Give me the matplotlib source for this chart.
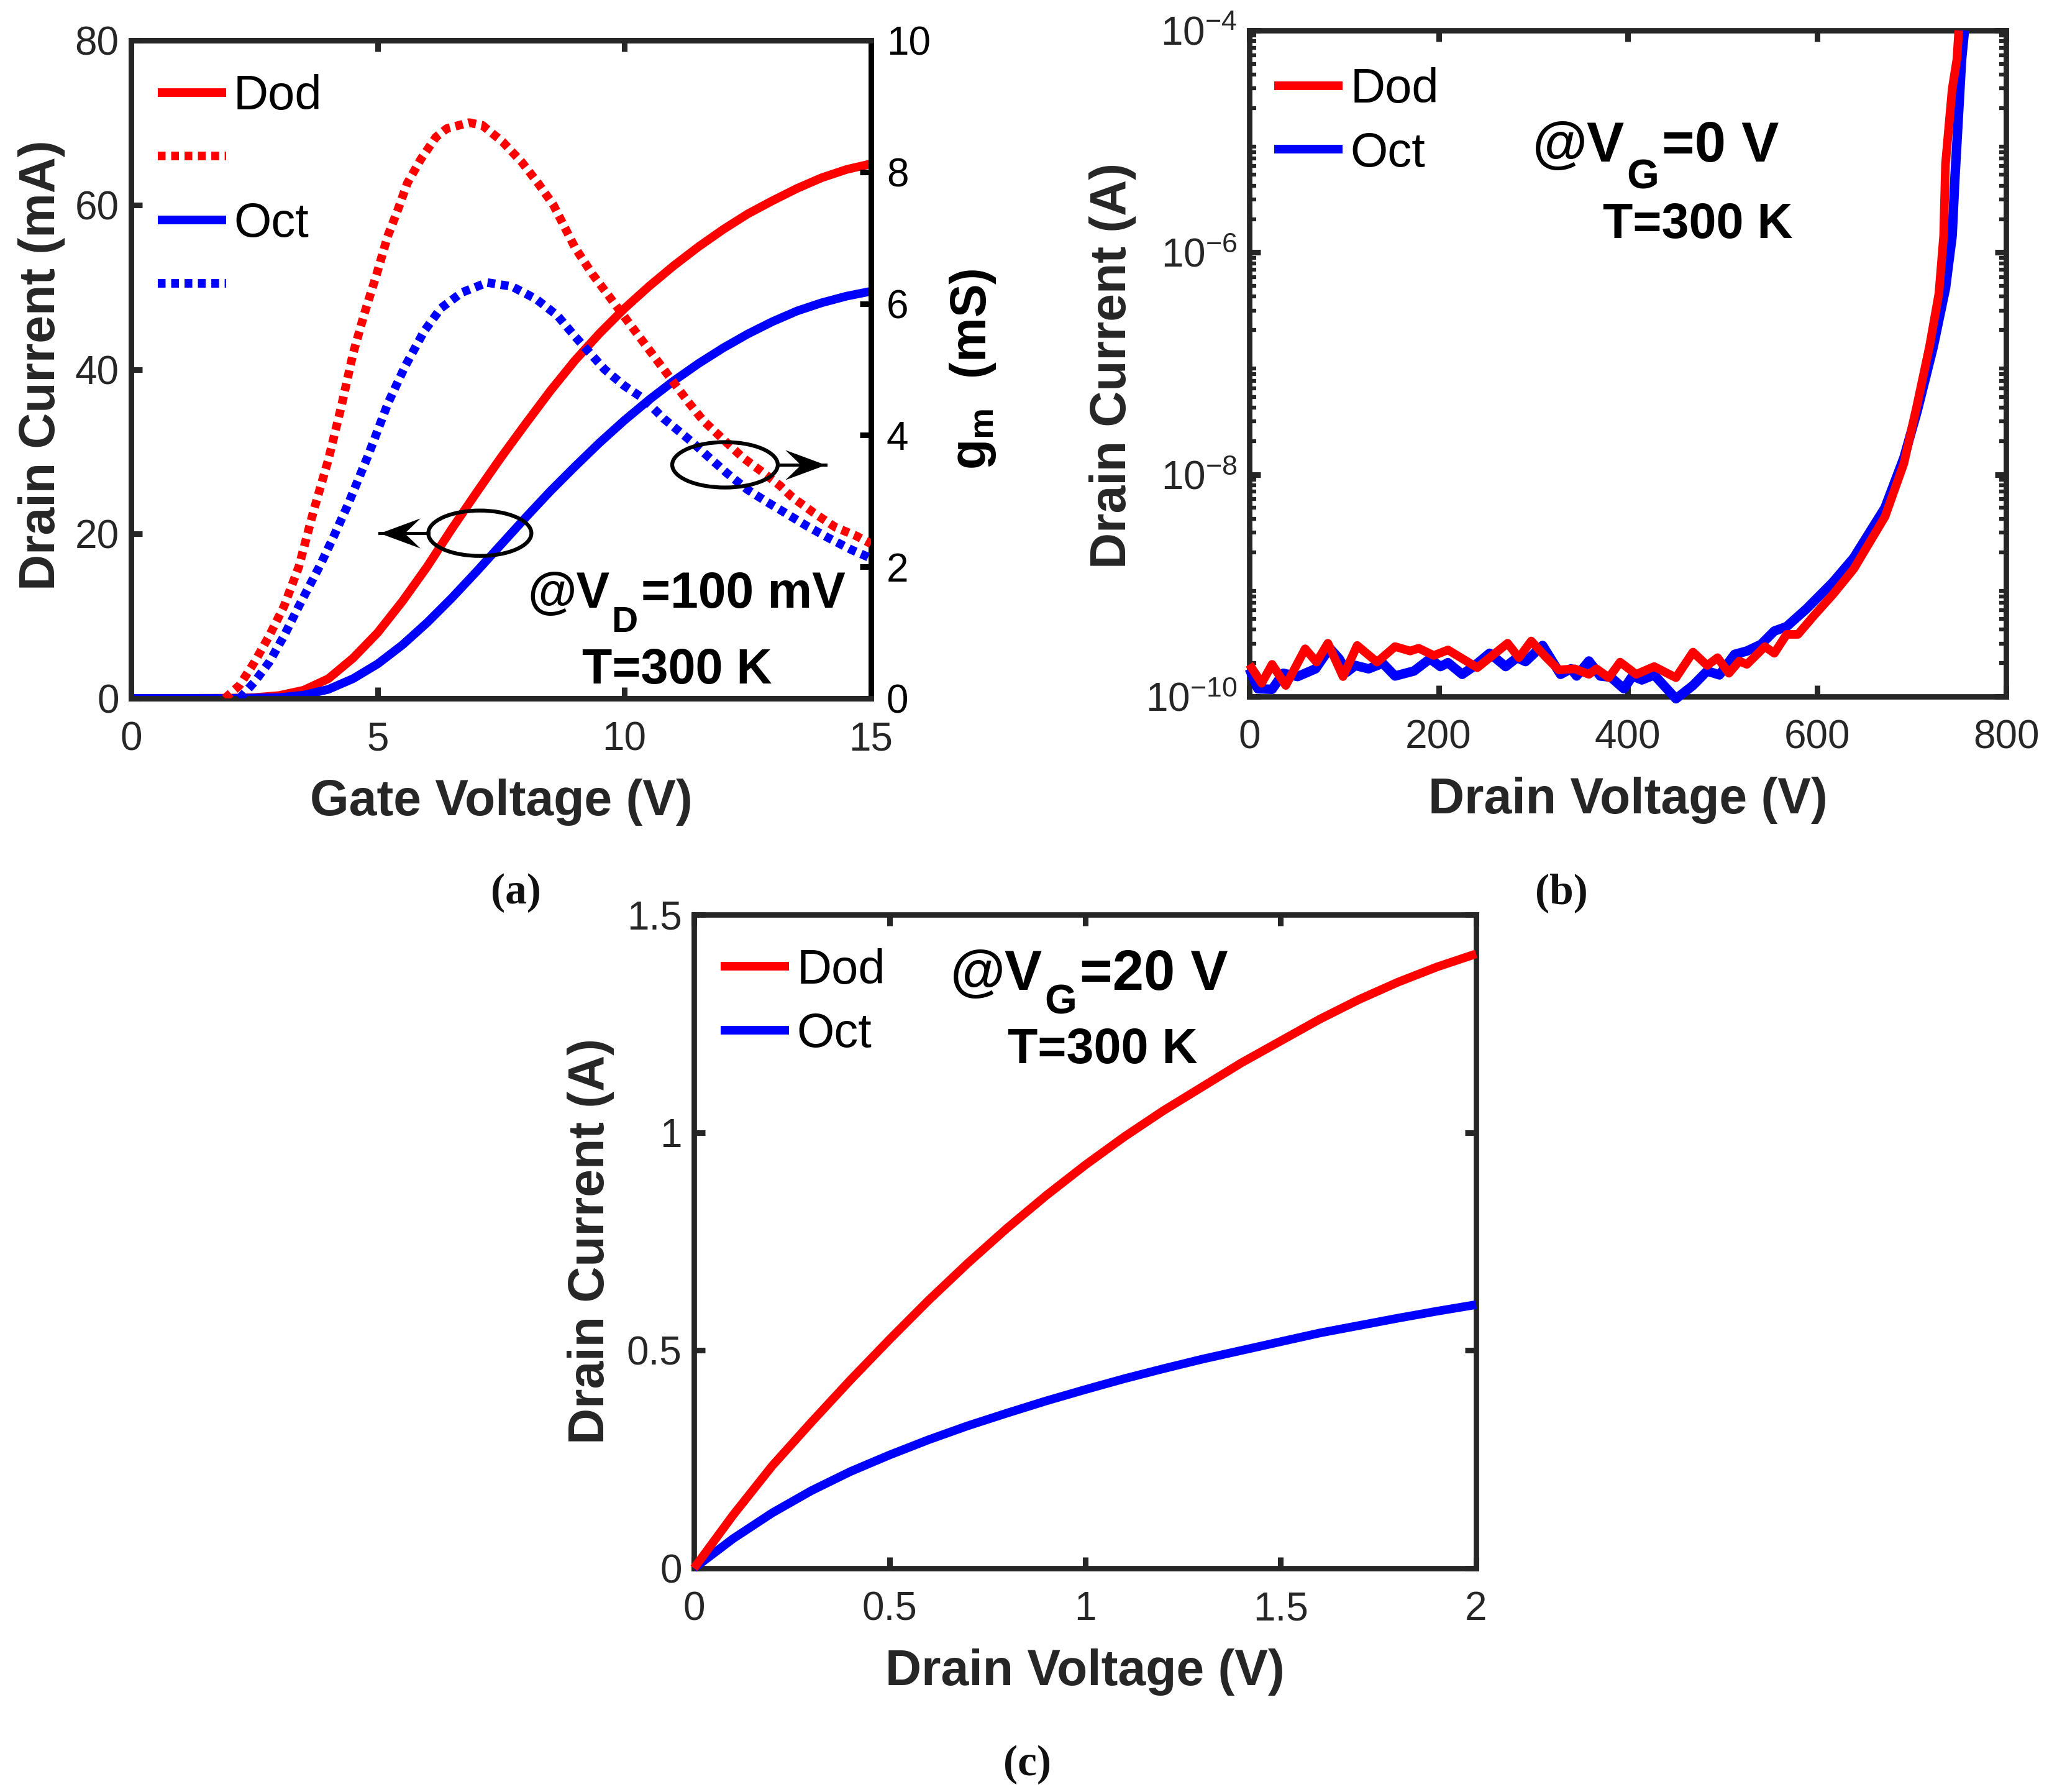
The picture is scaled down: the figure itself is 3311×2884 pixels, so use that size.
import numpy as np
import matplotlib
matplotlib.use('Agg')
import matplotlib.pyplot as plt
from matplotlib.patches import Ellipse
from matplotlib.path import Path

plt.rcParams['font.family'] = ['Liberation Sans', 'DejaVu Sans']
plt.rcParams['mathtext.fontset'] = 'custom'
plt.rcParams['mathtext.rm'] = 'Liberation Sans'
plt.rcParams['mathtext.bf'] = 'Liberation Sans:bold'
plt.rcParams['mathtext.it'] = 'Liberation Sans:italic'
plt.rcParams['mathtext.default'] = 'rm'

W, H = 3311, 2884
DARK = '#262626'
RED = '#ff0000'
BLUE = '#0000ff'

# Panel (a)
a_dod_v = [0, 1, 2, 2.5, 3, 3.5, 4, 4.5, 5, 5.5, 6, 6.5, 7, 7.5, 8, 8.5, 9, 9.5, 10, 10.5, 11, 11.5, 12, 12.5, 13, 13.5, 14, 14.5, 15]
a_dod_i = [0, 0, 0.03, 0.1, 0.35, 1.0, 2.4, 4.9, 8.0, 11.8, 16.0, 20.6, 25.0, 29.3, 33.4, 37.4, 41.1, 44.4, 47.4, 50.1, 52.6, 54.9, 57.0, 58.9, 60.5, 62.0, 63.3, 64.3, 65.0]
a_oct_v = [0, 2, 3, 3.5, 4, 4.5, 5, 5.5, 6, 6.5, 7, 7.5, 8, 8.5, 9, 9.5, 10, 10.5, 11, 11.5, 12, 12.5, 13, 13.5, 14, 14.5, 15]
a_oct_i = [0, 0, 0.1, 0.4, 1.1, 2.4, 4.2, 6.5, 9.2, 12.2, 15.4, 18.7, 22.0, 25.2, 28.2, 31.1, 33.8, 36.3, 38.6, 40.7, 42.6, 44.3, 45.8, 47.1, 48.1, 48.9, 49.5]
a_dod_gv = [1.9, 2.2, 2.5, 2.8, 3.1, 3.4, 3.7, 4.0, 4.26, 4.5, 4.73, 4.98, 5.2, 5.41, 5.6, 5.87, 6.18, 6.4, 6.85, 7.12, 7.53, 7.92, 8.25, 8.56, 9.0, 9.35, 9.7, 10.0, 10.3, 10.65, 11.0, 11.3, 11.6, 12.0, 12.4, 12.78, 13.16, 13.4, 13.84, 14.28, 14.7, 15]
a_dod_g = [0, 0.2, 0.55, 0.95, 1.4, 2.0, 2.85, 3.63, 4.43, 5.24, 5.85, 6.45, 7.02, 7.43, 7.83, 8.19, 8.53, 8.66, 8.75, 8.71, 8.46, 8.15, 7.83, 7.5, 6.85, 6.45, 6.1, 5.8, 5.5, 5.15, 4.8, 4.5, 4.22, 3.94, 3.66, 3.45, 3.23, 3.06, 2.82, 2.6, 2.47, 2.35]
a_oct_gv = [2.2, 2.5, 2.8, 3.1, 3.4, 3.85, 4.1, 4.4, 4.81, 5.21, 5.55, 5.94, 6.28, 6.71, 7.22, 7.72, 8.21, 8.64, 9.0, 9.6, 10.0, 10.4, 10.8, 11.35, 11.72, 12.1, 12.5, 12.88, 13.26, 13.7, 14.11, 14.6, 15]
a_oct_g = [0, 0.25, 0.55, 0.95, 1.4, 2.05, 2.45, 2.95, 3.7, 4.49, 5.04, 5.58, 5.93, 6.17, 6.32, 6.26, 6.07, 5.82, 5.5, 5.0, 4.75, 4.55, 4.25, 3.91, 3.66, 3.41, 3.17, 2.99, 2.82, 2.62, 2.45, 2.26, 2.13]

# Panel (b)
b_dod_v = [0, 13, 24, 38.5, 59, 71, 83, 99, 114, 135, 154, 170, 179, 195, 210, 241, 273, 285, 298, 313, 327, 344, 359, 367, 380, 392, 409, 428, 451, 469, 484, 495, 507, 518, 526, 545, 555, 568, 580, 597, 617, 639, 672, 692, 706, 719, 729, 734, 736, 743, 748, 750]
b_dod_log = [-9.71, -9.88, -9.71, -9.90, -9.57, -9.69, -9.52, -9.82, -9.54, -9.69, -9.55, -9.59, -9.565, -9.63, -9.58, -9.74, -9.52, -9.65, -9.50, -9.64, -9.76, -9.75, -9.80, -9.75, -9.83, -9.69, -9.80, -9.73, -9.83, -9.60, -9.72, -9.65, -9.79, -9.68, -9.71, -9.55, -9.61, -9.44, -9.44, -9.27, -9.08, -8.85, -8.38, -7.9, -7.37, -6.85, -6.37, -5.85, -5.2, -4.53, -4.26, -4.0]
b_oct_v = [0, 9, 24, 36, 51, 70, 85, 95, 103, 112, 126, 141, 154, 174, 191, 202, 210, 225, 237, 254, 271, 283, 292, 310, 329, 340, 346, 359, 371, 382, 396, 405, 415, 428, 451, 469, 484, 497, 513, 526, 541, 555, 568, 589, 617, 639, 672, 692, 706, 723, 736, 743, 746, 753, 756]
b_oct_log = [-9.75, -9.93, -9.935, -9.79, -9.82, -9.75, -9.565, -9.66, -9.78, -9.72, -9.75, -9.70, -9.815, -9.77, -9.66, -9.73, -9.695, -9.80, -9.73, -9.61, -9.73, -9.65, -9.685, -9.54, -9.80, -9.75, -9.815, -9.68, -9.815, -9.825, -9.93, -9.815, -9.85, -9.805, -10.02, -9.90, -9.77, -9.805, -9.62, -9.59, -9.53, -9.41, -9.37, -9.21, -8.97, -8.75, -8.3, -7.85, -7.43, -6.85, -6.32, -5.85, -5.32, -4.26, -4.0]

# Panel (c)
c_v = [0, 0.1, 0.2, 0.3, 0.4, 0.5, 0.6, 0.7, 0.8, 0.9, 1.0, 1.1, 1.2, 1.3, 1.4, 1.5, 1.6, 1.7, 1.8, 1.9, 2.0]
c_dod = [0, 0.122, 0.235, 0.335, 0.432, 0.525, 0.615, 0.70, 0.78, 0.855, 0.925, 0.99, 1.05, 1.105, 1.16, 1.21, 1.26, 1.305, 1.345, 1.38, 1.41]
c_oct = [0, 0.068, 0.127, 0.178, 0.222, 0.26, 0.295, 0.327, 0.356, 0.384, 0.41, 0.435, 0.458, 0.48, 0.50, 0.52, 0.54, 0.557, 0.574, 0.59, 0.605]

TICK = 46
LABEL = 58
LEG = 56
LW = 10
SPINE = 6.3


def add_axes(l, t, r, b):
    return fig.add_axes([l / W, 1 - b / H, (r - l) / W, (b - t) / H])


def style(ax, top=True, right=True):
    for s in ax.spines.values():
        s.set_linewidth(SPINE)
        s.set_color(DARK)
    ax.tick_params(which='major', direction='in', length=13, width=6.5, top=top, right=right,
                   labelsize=TICK, labelcolor=DARK, color=DARK)
    ax.tick_params(axis='x', which='major', pad=26)
    ax.tick_params(axis='y', which='major', pad=14)
    ax.tick_params(which='minor', direction='in', length=8, width=4.5, top=False, right=right, color=DARK)


def legend(ax, handles, labels, loc):
    ax.legend(handles, labels, loc='upper left', bbox_to_anchor=loc, frameon=False, fontsize=LEG,
              handlelength=1.41, handletextpad=0.16, labelspacing=0.38, borderpad=0, borderaxespad=0,
              labelcolor='black')


def annotation(x, y, ysub, head, sub, tail, size, subsize):
    """@V with a lowered subscript, set as three real texts from pixel positions."""
    r = fig.canvas.get_renderer()
    t = fig.text(x / W, 1 - y / H, head, fontsize=size, fontweight='bold', va='baseline', color='black')
    x1 = t.get_window_extent(r).x1 + 3
    t = fig.text(x1 / W, 1 - ysub / H, sub, fontsize=subsize, fontweight='bold', va='baseline', color='black')
    x2 = t.get_window_extent(r).x1 + 5
    fig.text(x2 / W, 1 - y / H, tail, fontsize=size, fontweight='bold', va='baseline', color='black')


def temperature(xc, y):
    fig.text(xc / W, 1 - y / H, 'T=300 K', fontsize=57, fontweight='bold', ha='center', va='baseline', color='black')


fig = plt.figure(figsize=(W / 100, H / 100), dpi=100, facecolor='white')

# (a)
ax = add_axes(211, 65, 1402, 1124)
style(ax, right=False)
l1, = ax.plot(a_dod_v, a_dod_i, color=RED, lw=LW, zorder=3, solid_capstyle='butt')
l3, = ax.plot(a_oct_v, a_oct_i, color=BLUE, lw=LW, zorder=3, solid_capstyle='butt')
ax.set_xlim(0, 15)
ax.set_ylim(0, 80)
ax.set_xticks([0, 5, 10, 15])
ax.set_yticks([0, 20, 40, 60, 80])
ax.set_xlabel('Gate Voltage (V)', fontsize=LABEL, fontweight='bold', color=DARK, labelpad=24)
ax.set_ylabel('Drain Current (mA)', fontsize=LABEL, fontweight='bold', color=DARK, labelpad=11, y=0.506)
ax2 = ax.twinx()
style(ax2, top=False, right=True)
ax2.spines['right'].set_color('black')
ax2.tick_params(axis='y', labelcolor='black', color='black', pad=18)
dots = (0, (0.9, 0.65))
l2, = ax2.plot(a_dod_gv, a_dod_g, color=RED, lw=LW, ls=dots, zorder=3)
l4, = ax2.plot(a_oct_gv, a_oct_g, color=BLUE, lw=LW, ls=dots, zorder=3)
ax2.set_ylim(0, 10)
ax2.set_yticks([0, 2, 4, 6, 8, 10])
ax2.set_ylabel(r'$\mathbf{g_m}$  (mS)', fontsize=LABEL, fontweight='bold', color='black', labelpad=20)
legend(ax2, [l1, l2, l3, l4], ['Dod', ' ', 'Oct', ' '], (0.036, 0.949))
ax2.add_patch(Ellipse((7.07, 2.51), 2.09, 0.69, fill=False, ec='black', lw=4.5, zorder=5))
ax2.add_patch(Ellipse((12.04, 3.55), 2.14, 0.69, fill=False, ec='black', lw=4.5, zorder=5))
# concave arrow heads as markers whose tip is the marker origin
head_left = Path([(0, 0), (65, 24), (40, 0), (65, -24), (0, 0)], closed=True)
head_right = Path([(0, 0), (-65, 24), (-40, 0), (-65, -24), (0, 0)], closed=True)
ax2.plot([6.03, 5.04], [2.51, 2.51], color='black', lw=3.6, zorder=5, marker=head_left, markevery=[1],
         markersize=94, markerfacecolor='black', markeredgewidth=0)
ax2.plot([13.1, 14.08], [3.55, 3.55], color='black', lw=3.6, zorder=5, marker=head_right, markevery=[1],
         markersize=94, markerfacecolor='black', markeredgewidth=0)
annotation(849, 978, 1017, '@V', 'D', '=100 mV', 58, 42)
temperature(1090, 1100)

# (b)
bx = add_axes(2011, 49, 3229, 1121)
style(bx)
bx.plot(b_oct_v, 10.0 ** np.array(b_oct_log), color=BLUE, lw=LW + 1, zorder=3, clip_on=False, solid_capstyle='butt')
bx.plot(b_dod_v, 10.0 ** np.array(b_dod_log), color=RED, lw=LW, zorder=3.1, clip_on=False, solid_capstyle='butt')
bx.set_yscale('log')
bx.set_xlim(0, 800)
bx.set_ylim(1e-10, 1e-4)
bx.set_xticks([0, 200, 400, 600, 800])
bx.set_yticks([1e-10, 1e-8, 1e-6, 1e-4])
bx.set_yticklabels([r'$10^{-10}$', r'$10^{-8}$', r'$10^{-6}$', r'$10^{-4}$'])
bx.yaxis.set_minor_locator(matplotlib.ticker.LogLocator(base=10, subs=np.arange(2, 10), numticks=20))
bx.yaxis.set_minor_formatter(matplotlib.ticker.NullFormatter())
bx.set_xlabel('Drain Voltage (V)', fontsize=LABEL, fontweight='bold', color=DARK, labelpad=24)
bx.set_ylabel('Drain Current (A)', fontsize=LABEL, fontweight='bold', color=DARK, labelpad=11, y=0.497)
h = [plt.Line2D([], [], color=RED, lw=LW, solid_capstyle='butt'),
     plt.Line2D([], [], color=BLUE, lw=LW, solid_capstyle='butt')]
legend(bx, h, ['Dod', 'Oct'], (0.033, 0.945))
annotation(2467, 260, 303, '@V', 'G', '=0 V', 65, 48)
temperature(2733, 383)

# (c)
cx = add_axes(1117, 1472, 2376, 2524)
style(cx)
cx.plot(c_v, c_oct, color=BLUE, lw=LW, zorder=3, clip_on=False, solid_capstyle='butt')
cx.plot(c_v, c_dod, color=RED, lw=LW, zorder=3.1, clip_on=False, solid_capstyle='butt')
cx.set_xlim(0, 2)
cx.set_ylim(0, 1.5)
cx.set_xticks([0, 0.5, 1, 1.5, 2])
cx.set_xticklabels(['0', '0.5', '1', '1.5', '2'])
cx.set_yticks([0, 0.5, 1, 1.5])
cx.set_yticklabels(['0', '0.5', '1', '1.5'])
cx.set_xlabel('Drain Voltage (V)', fontsize=LABEL, fontweight='bold', color=DARK, labelpad=24)
cx.set_ylabel('Drain Current (A)', fontsize=LABEL, fontweight='bold', color=DARK, labelpad=14)
legend(cx, h, ['Dod', 'Oct'], (0.0345, 0.949))
annotation(1530, 1593, 1632, '@V', 'G', '=20 V', 65, 48)
temperature(1775, 1711)

# captions
for s, x, y in [('(a)', 830, 1437), ('(b)', 2513, 1437), ('(c)', 1653, 2840)]:
    fig.text(x / W, 1 - y / H, s, fontsize=50, family='Liberation Serif', fontweight='bold', ha='center', va='center', color='#111111')

fig.savefig('out.png', dpi=100)
